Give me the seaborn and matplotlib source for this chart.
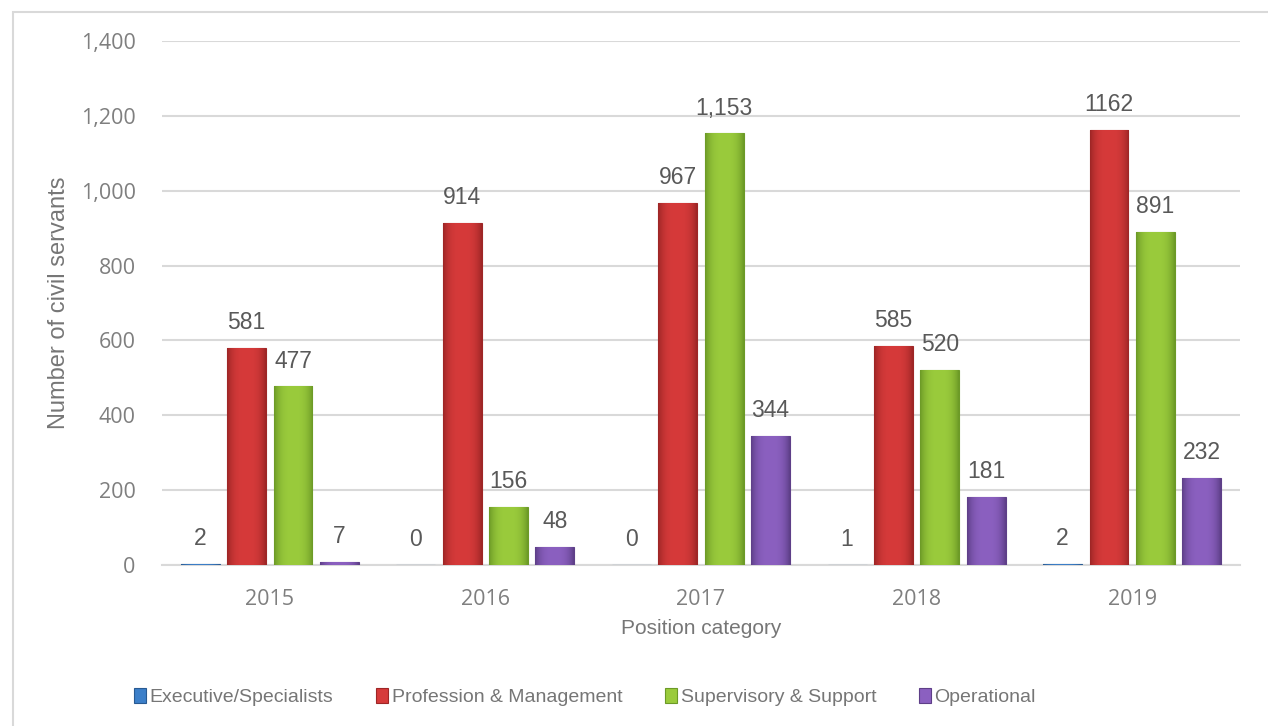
import matplotlib
matplotlib.use("Agg")
import matplotlib.pyplot as plt
from matplotlib.patches import Rectangle, Patch
import numpy as np
import pandas as pd
import seaborn as sns

# chart data
years = ["2015", "2016", "2017", "2018", "2019"]
categories = ["Executive/Specialists", "Profession & Management",
              "Supervisory & Support", "Operational"]
executive = [2, 0, 0, 1, 2]
profession = [581, 914, 967, 585, 1162]
supervisory = [477, 156, 1153, 520, 891]
operational = [7, 48, 344, 181, 232]
# label text as printed on the chart (2019 red label has no comma)
executive_lbl = ["2", "0", "0", "1", "2"]
profession_lbl = ["581", "914", "967", "585", "1162"]
supervisory_lbl = ["477", "156", "1,153", "520", "891"]
operational_lbl = ["7", "48", "344", "181", "232"]
y_ticks = [0, 200, 400, 600, 800, 1000, 1200, 1400]

colors = ["#3C7FC9", "#D63A3A", "#9ACB3C", "#8B60C0"]
edge_colors = ["#285A92", "#9E2626", "#6C9A27", "#5E3F88"]

rows = []
for cat, vals in zip(categories, [executive, profession, supervisory, operational]):
    for yr, v in zip(years, vals):
        rows.append({"year": yr, "count": v, "category": cat})
df = pd.DataFrame(rows)

sns.set_theme(style="white")
plt.rcParams["font.family"] = ["Liberation Sans", "DejaVu Sans"]

fig = plt.figure(figsize=(12.68, 7.26), dpi=100)
ax = fig.add_axes([162 / 1268, 1 - 565 / 726, (1240 - 162) / 1268, (565 - 41) / 726])

sns.barplot(data=df, x="year", y="count", hue="category", hue_order=categories,
            order=years, palette=colors, width=0.86, gap=0.16, errorbar=None,
            legend=False, ax=ax, zorder=3)

ax.set_ylim(0, 1400)
ax.set_yticks(y_ticks)
ax.set_yticklabels([f"{t:,}" for t in y_ticks])
ax.yaxis.grid(True, color="#D9D9D9", linewidth=1.5, zorder=0)
ax.set_axisbelow(True)
for s in ["top", "right", "left"]:
    ax.spines[s].set_visible(False)
ax.spines["bottom"].set_color("#D9D9D9")
ax.spines["bottom"].set_linewidth(1.5)
ax.tick_params(axis="both", length=0, labelcolor="#7F7F7F", labelsize=15.5)
ax.tick_params(axis="y", pad=19)
ax.tick_params(axis="x", pad=17)
for lbl in ax.get_xticklabels() + ax.get_yticklabels():
    lbl.set_family(["Open Sans", "DejaVu Sans"])

ax.set_xlabel("Position category", fontsize=15, color="#767676", labelpad=7)
ax.set_ylabel("Number of civil servants", fontsize=17, color="#767676")
ax.yaxis.set_label_coords(-(162 - 70) / (1240 - 162), 0.5)

# shaded bars: horizontal gradient clipped to each bar
xlim = ax.get_xlim()
for cont, c, ec in zip(ax.containers, colors, edge_colors):
    base = np.array(matplotlib.colors.to_rgb(c))
    dark = np.array(matplotlib.colors.to_rgb(ec))
    prof = np.abs(np.linspace(-1, 1, 64)) ** 3
    grad = base[None, :] * (1 - prof[:, None]) + dark[None, :] * prof[:, None]
    for bar in cont:
        bar.set_edgecolor(ec)
        bar.set_linewidth(0.8)
        h = bar.get_height()
        if h <= 0:
            continue
        x0 = bar.get_x()
        w = bar.get_width()
        im = ax.imshow(grad[None, :, :], extent=[x0, x0 + w, 0, h],
                       aspect="auto", zorder=3.5, interpolation="bilinear")
        im.set_clip_path(bar)
ax.set_xlim(xlim)
ax.set_ylim(0, 1400)

label_sets = [executive_lbl, profession_lbl, supervisory_lbl, operational_lbl]
for cont, labs in zip(ax.containers, label_sets):
    ax.bar_label(cont, labels=labs, padding=10, fontsize=16.5, color="#595959")

handles = [Patch(facecolor=c, edgecolor=ec, linewidth=0.8)
           for c, ec in zip(colors, edge_colors)]
fig.legend(handles, categories, loc="center", bbox_to_anchor=(585 / 1268, 1 - 697 / 726),
           ncol=4, frameon=False, fontsize=14, labelcolor="#767676",
           handlelength=0.6, handleheight=0.8, handletextpad=0.2, columnspacing=2.2)

fig.patches.append(Rectangle((13 / 1268, -0.05), 1.1, 1 - 12 / 726 + 0.05,
                             transform=fig.transFigure, fill=False,
                             edgecolor="#D9D9D9", linewidth=1.5))

fig.savefig("out.png", dpi=100)
